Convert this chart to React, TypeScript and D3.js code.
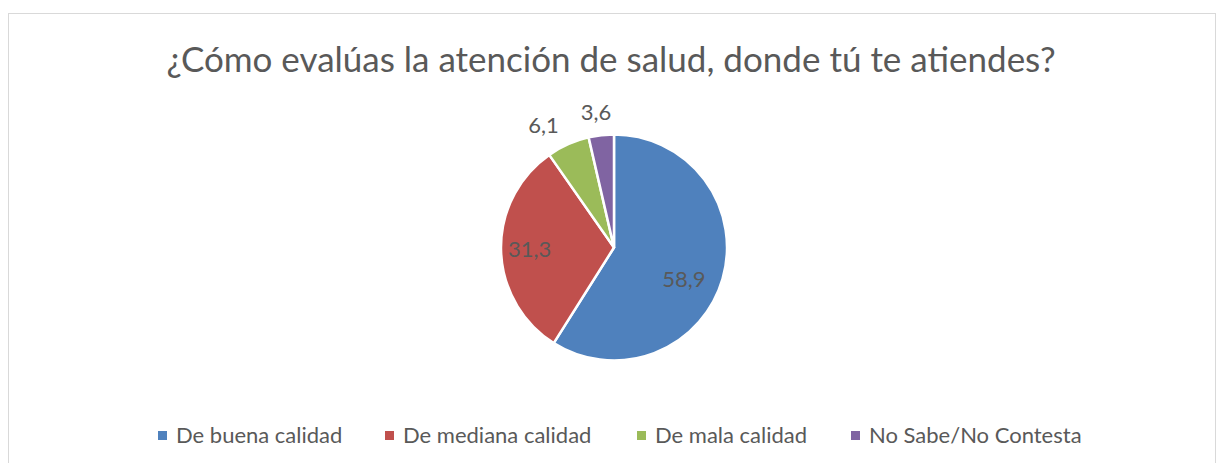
import React from "react";
import * as d3 from "d3";

const categories = ["De buena calidad", "De mediana calidad", "De mala calidad", "No Sabe/No Contesta"];
const values = [58.9, 31.3, 6.1, 3.6];
const labels = ["58,9", "31,3", "6,1", "3,6"];
const colors = ["#4f81bd", "#c0504d", "#9bbb59", "#8064a2"];
const title = "¿Cómo evalúas la atención de salud, donde tú te atiendes?";

const W = 1217;
const H = 463;
const cx = 614;
const cy = 247.5;
const R = 113;
const labelR = [77, 84.5, 141.5, 136.5];
const labelAngleShift = [8.5, 0, -5.9, -1.1];
const legendX = [158, 385, 637, 851];
const FONT = "Lato, 'Open Sans', sans-serif";
const TXT = "#595959";

export default function App() {
  const pie = d3.pie<number>().sort(null).value((d) => d)(values);
  const arc = d3.arc<d3.PieArcDatum<number>>().innerRadius(0).outerRadius(R);
  return (
    <svg width={W} height={H} style={{ position: "absolute", left: 0, top: 0 }}>
      <rect x={0} y={0} width={W} height={H} fill="#fff" />
      <rect x={8.5} y={13.5} width={1207} height={500} fill="#fff" stroke="#d9d9d9" strokeWidth={1} />
      <text x={611} y={72} textAnchor="middle" fontFamily={FONT} fontSize={35} fill={TXT}>{title}</text>
      <g transform={`translate(${cx},${cy})`}>
        {pie.map((p, i) => (
          <path key={i} d={arc(p) || ""} fill={colors[i]} stroke="#fff" strokeWidth={2.5} strokeLinejoin="round" />
        ))}
        {pie.map((p, i) => {
          const a = (p.startAngle + p.endAngle) / 2 + (labelAngleShift[i] * Math.PI) / 180;
          const x = Math.sin(a) * labelR[i];
          const y = -Math.cos(a) * labelR[i];
          return (
            <text key={i} x={x} y={y} dy="0.35em" textAnchor="middle" fontFamily={FONT} fontSize={22} fill={TXT}>{labels[i]}</text>
          );
        })}
      </g>
      {categories.map((c, i) => (
        <g key={i}>
          <rect x={legendX[i]} y={431} width={9} height={9} fill={colors[i]} />
          <text x={legendX[i] + 18} y={443} fontFamily={FONT} fontSize={22} fill={TXT}>{c}</text>
        </g>
      ))}
    </svg>
  );
}
